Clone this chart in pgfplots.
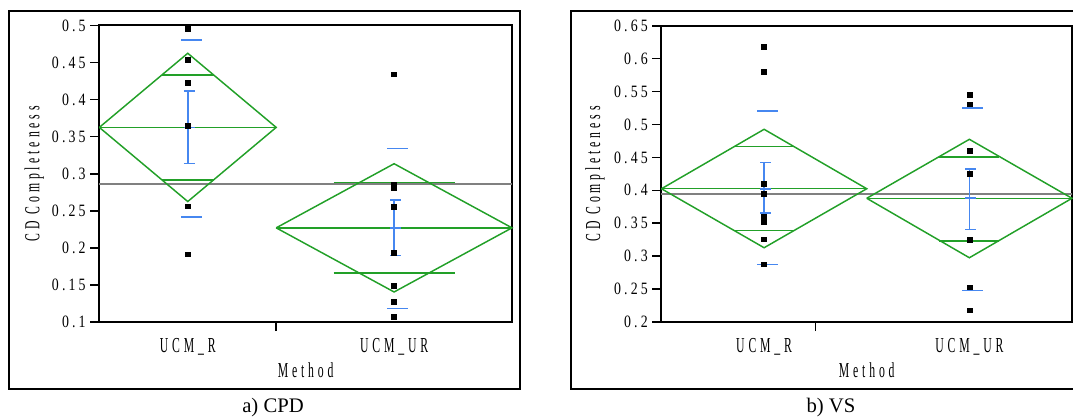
\documentclass[border=0pt]{standalone}
\usepackage{pgfplots}
\pgfplotsset{compat=1.18}
\usepackage{fontspec}
\setmainfont{Liberation Serif}
\newfontfamily\numfont[FakeStretch=0.8,LetterSpace=18]{Liberation Serif}
\newfontfamily\wordfont[FakeStretch=0.55,LetterSpace=18]{Liberation Serif}

\definecolor{diamondgreen}{RGB}{34,160,40}
\definecolor{barblue}{RGB}{70,135,240}
\definecolor{meangray}{RGB}{128,128,128}

\pgfplotsset{
  jmp/.style={
    scale only axis, clip=false,
    axis line style={line width=1.5pt},
    tick pos=left, tick align=outside,
    major tick length=6.75pt,
    every tick/.style={black, line width=1.2pt},
    /pgf/number format/assume math mode=true,
    yticklabel style={font=\numfont\fontsize{13}{15}\selectfont},
    xtick={6}, xticklabels={},
    extra x tick style={major tick length=0pt,
      xticklabel style={font=\wordfont\fontsize{16}{18}\selectfont, anchor=base, yshift=-23pt}},
    xlabel={Method}, ylabel={CD Completeness},
    xlabel style={font=\wordfont\fontsize{16}{18}\selectfont, at={(axis description cs:0.5,-0.188)}, anchor=base},
    ylabel style={font=\wordfont\fontsize{16}{18}\selectfont, anchor=center},
  },
  diamond/.style={diamondgreen, line width=1.1pt, mark=none},
  sebar/.style={barblue, line width=1.2pt, mark=none},
  grand/.style={meangray, line width=1.2pt, mark=none},
  obs/.style={only marks, mark=square*, mark size=1.8pt, black},
}

\begin{document}
\begin{tikzpicture}
\useasboundingbox (0,0) rectangle (804.75pt,313.5pt);

% ---------------- a) CPD ----------------
\begin{axis}[jmp,
  at={(74.5pt,72pt)}, anchor=south west,
  width=309.5pt, height=222.4pt,
  xmin=0, xmax=14, ymin=0.1, ymax=0.5,
  ytick={0.1,0.15,0.2,0.25,0.3,0.35,0.4,0.45,0.5},
  extra x ticks={3,10}, extra x tick labels={UCM\_R,UCM\_UR},
  ylabel style={at={(axis description cs:-0.158,0.5)}},
]
% grand mean
\addplot[grand] coordinates {(0,0.2858) (14,0.2858)};
% UCM_R diamond, mean and overlap marks
\addplot[diamond] coordinates {(0,0.3625) (3,0.4625) (6,0.3625) (3,0.2625) (0,0.3625)};
\addplot[diamond] coordinates {(0,0.3625) (6,0.3625)};
\addplot[diamond] coordinates {(2.121,0.4332) (3.879,0.4332)};
\addplot[diamond] coordinates {(2.121,0.2918) (3.879,0.2918)};
% UCM_UR diamond, mean and overlap marks
\addplot[diamond] coordinates {(6,0.227) (10,0.3135) (14,0.227) (10,0.1405) (6,0.227)};
\addplot[diamond] coordinates {(6,0.227) (14,0.227)};
\addplot[diamond] coordinates {(7.95,0.2882) (12.05,0.2882)};
\addplot[diamond] coordinates {(7.95,0.1658) (12.05,0.1658)};
% UCM_R standard error bar and std dev lines
\addplot[sebar] coordinates {(3,0.3137) (3,0.4113)};
\addplot[sebar] coordinates {(2.864,0.4113) (3.237,0.4113)};
\addplot[sebar] coordinates {(2.864,0.3137) (3.237,0.3137)};
\addplot[sebar] coordinates {(2.864,0.3625) (3.237,0.3625)};
\addplot[sebar] coordinates {(2.763,0.4807) (3.475,0.4807)};
\addplot[sebar] coordinates {(2.763,0.2419) (3.475,0.2419)};
% UCM_UR standard error bar and std dev lines
\addplot[sebar] coordinates {(10,0.1896) (10,0.2649)};
\addplot[sebar] coordinates {(9.864,0.2649) (10.237,0.2649)};
\addplot[sebar] coordinates {(9.864,0.1896) (10.237,0.1896)};
\addplot[sebar] coordinates {(9.864,0.227) (10.237,0.227)};
\addplot[sebar] coordinates {(9.763,0.3338) (10.475,0.3338)};
\addplot[sebar] coordinates {(9.763,0.1180) (10.475,0.1180)};
% observations
\addplot[obs] coordinates {(3,0.496) (3,0.4536) (3,0.423) (3,0.365) (3,0.256) (3,0.1915)};
\addplot[obs] coordinates {(10,0.4342) (10,0.2851) (10,0.2807) (10,0.2558) (10,0.1937) (10,0.149) (10,0.127) (10,0.1068)};
\end{axis}

% ---------------- b) VS ----------------
\begin{axis}[jmp,
  at={(496.1pt,72pt)}, anchor=south west,
  width=307.9pt, height=222.2pt,
  xmin=0, xmax=16, ymin=0.2, ymax=0.65,
  ytick={0.2,0.25,0.3,0.35,0.4,0.45,0.5,0.55,0.6,0.65},
  extra x ticks={4,12}, extra x tick labels={UCM\_R,UCM\_UR},
  ylabel style={at={(axis description cs:-0.162,0.5)}},
]
\addplot[grand] coordinates {(0,0.3946) (16,0.3946)};
% UCM_R
\addplot[diamond] coordinates {(0,0.4024) (4,0.4927) (8,0.4024) (4,0.3128) (0,0.4024)};
\addplot[diamond] coordinates {(0,0.4024) (8,0.4024)};
\addplot[diamond] coordinates {(2.83,0.4665) (5.17,0.4665)};
\addplot[diamond] coordinates {(2.83,0.3390) (5.17,0.3390)};
% UCM_UR
\addplot[diamond] coordinates {(8,0.3879) (12,0.4775) (16,0.3879) (12,0.2976) (8,0.3879)};
\addplot[diamond] coordinates {(8,0.3879) (16,0.3879)};
\addplot[diamond] coordinates {(10.83,0.4508) (13.17,0.4508)};
\addplot[diamond] coordinates {(10.83,0.3232) (13.17,0.3232)};
% UCM_R error bar and std dev lines
\addplot[sebar] coordinates {(4,0.3655) (4,0.4425)};
\addplot[sebar] coordinates {(3.844,0.4425) (4.273,0.4425)};
\addplot[sebar] coordinates {(3.844,0.3655) (4.273,0.3655)};
\addplot[sebar] coordinates {(3.844,0.4024) (4.273,0.4024)};
\addplot[sebar] coordinates {(3.727,0.5204) (4.546,0.5204)};
\addplot[sebar] coordinates {(3.727,0.2876) (4.546,0.2876)};
% UCM_UR error bar and std dev lines
\addplot[sebar] coordinates {(12,0.3402) (12,0.4323)};
\addplot[sebar] coordinates {(11.844,0.4323) (12.273,0.4323)};
\addplot[sebar] coordinates {(11.844,0.3402) (12.273,0.3402)};
\addplot[sebar] coordinates {(11.844,0.3879) (12.273,0.3879)};
\addplot[sebar] coordinates {(11.727,0.525) (12.546,0.525)};
\addplot[sebar] coordinates {(11.727,0.2481) (12.546,0.2481)};
% observations
\addplot[obs] coordinates {(4,0.6181) (4,0.5801) (4,0.41) (4,0.3948) (4,0.3599) (4,0.3523) (4,0.3256) (4,0.2876)};
\addplot[obs] coordinates {(12,0.5452) (12,0.5306) (12,0.4601) (12,0.4252) (12,0.325) (12,0.2527) (12,0.2177)};
\end{axis}

% report frames and captions
\draw[line width=1.5pt] (7.1pt,21.75pt) rectangle (390pt,305.25pt);
\draw[line width=1.5pt] (428pt,21.75pt) rectangle (830pt,305.25pt);
\node[anchor=base, font=\fontsize{15.5}{18}\selectfont] at (204.75pt,4pt) {a) CPD};
\node[anchor=base, font=\fontsize{15.5}{18}\selectfont] at (623.25pt,4pt) {b) VS};
\end{tikzpicture}
\end{document}
